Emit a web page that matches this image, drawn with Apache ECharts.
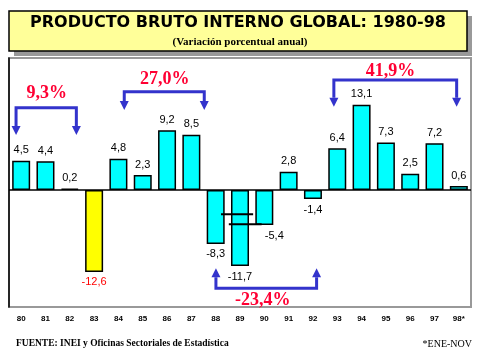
<!DOCTYPE html>
<html><head><meta charset="utf-8">
<script src="https://cdn.jsdelivr.net/npm/echarts/dist/echarts.min.js"></script>
<style>html,body{margin:0;padding:0;background:#fff}#c{width:479px;height:359px}</style>
</head><body><div id="c"></div>
<script>
// ---- data ----
const categories = ['80','81','82','83','84','85','86','87','88','89','90','91','92','93','94','95','96','97','98*'];
const values = [4.5, 4.4, 0.2, -12.6, 4.8, 2.3, 9.2, 8.5, -8.3, -11.7, -5.4, 2.8, -1.4, 6.4, 13.1, 7.3, 2.5, 7.2, 0.6];
const highlightYear = '83';
const periodTexts = ['9,3%', '27,0%', '41,9%', '-23,4%'];
const titleText = 'PRODUCTO BRUTO INTERNO GLOBAL: 1980-98';
const subtitleText = '(Variación porcentual anual)';
const sourceText = 'FUENTE: INEI y Oficinas Sectoriales de Estadística';
const noteText = '*ENE-NOV';

const chart = echarts.init(document.getElementById('c'), null, {renderer: 'canvas'});
const fmt = v => v.toFixed(1).replace('.', ',');

const barData = values.map((v, i) => {
  const hl = categories[i] === highlightYear;
  const item = {
    value: v,
    itemStyle: {color: hl ? '#ffff00' : '#00ffff', borderColor: '#000', borderWidth: 1.5},
    label: {position: v >= 0 ? 'top' : 'bottom', color: hl ? '#ff0000' : '#000'}
  };
  if (categories[i] === '90') item.label.offset = [10, 0];
  return item;
});

const option = {
  animation: false,
  grid: {left: 9, right: 8, top: 58, bottom: 52, show: true, borderColor: '#999', borderWidth: 2, backgroundColor: 'transparent'},
  xAxis: {
    type: 'category', data: categories,
    axisLine: {show: false}, axisTick: {show: false},
    axisLabel: {fontSize: 8, fontWeight: 'bold', color: '#000', margin: 8, fontFamily: 'Liberation Sans'}
  },
  yAxis: {
    type: 'value', min: -18, max: 20.3,
    axisLine: {show: true, lineStyle: {color: '#000', width: 1.5}},
    axisTick: {show: false}, axisLabel: {show: false}, splitLine: {show: false}
  },
  series: [{
    type: 'bar', data: barData, barWidth: 18,
    label: {show: true, distance: 5, fontSize: 11, fontFamily: 'Liberation Sans', formatter: p => fmt(p.value)},
    markLine: {
      silent: true, symbol: 'none', label: {show: false},
      lineStyle: {color: '#000', width: 1.5, type: 'solid'},
      data: [{yAxis: 0}]
    }
  }]
};
chart.setOption(option);

// ---- annotations (positions in category-index / value space) ----
const x0 = chart.convertToPixel({xAxisIndex: 0}, categories[0]);
const x1 = chart.convertToPixel({xAxisIndex: 0}, categories[1]);
const band = x1 - x0;
const X = idx => x0 + band * idx;
const Y = v => chart.convertToPixel({yAxisIndex: 0}, v);

const brackets = [
  {a: -0.21, b: 2.27, line: 12.66, tip: 8.46, tx: 1.05, ty: 14.9, text: periodTexts[0]},
  {a: 4.24, b: 7.53, line: 15.1, tip: 12.3, tx: 5.91, ty: 17.0, text: periodTexts[1]},
  {a: 12.86, b: 17.91, line: 16.9, tip: 12.8, tx: 15.19, ty: 18.3, text: periodTexts[2]},
  {a: 8.01, b: 12.15, line: -15.1, tip: -12.05, tx: 9.94, ty: -17.0, text: periodTexts[3]}
];
const blue = '#3333cc';
const g = [];
// title box
g.push({type: 'rect', shape: {x: 14, y: 16, width: 458, height: 40}, style: {fill: '#999999'}, z: 0});
g.push({type: 'rect', shape: {x: 9, y: 11, width: 458, height: 40}, style: {fill: '#ffff99', stroke: '#000', lineWidth: 1.5}, z: 1});
g.push({type: 'text', x: 238, y: 23, style: {text: titleText, align: 'center', verticalAlign: 'middle', font: 'bold 16px "DejaVu Sans"', fill: '#000'}, z: 2});
g.push({type: 'text', x: 240, y: 42, style: {text: subtitleText, align: 'center', verticalAlign: 'middle', font: 'bold 11px "Liberation Serif"', fill: '#000'}, z: 2});
// footer
g.push({type: 'text', x: 16, y: 344, style: {text: sourceText, align: 'left', verticalAlign: 'middle', font: 'bold 9.5px "Liberation Serif"', fill: '#000'}});
g.push({type: 'text', x: 472, y: 344, style: {text: noteText, align: 'right', verticalAlign: 'middle', font: '10px "Liberation Serif"', fill: '#000'}});

brackets.forEach(br => {
  const xa = X(br.a), xb = X(br.b), yl = Y(br.line), yt = Y(br.tip);
  const dir = yt > yl ? 1 : -1;
  const ah = 9, aw = 4.5;
  g.push({type: 'polyline', shape: {points: [[xa, yt - dir * ah], [xa, yl], [xb, yl], [xb, yt - dir * ah]]},
    style: {stroke: blue, lineWidth: 3, fill: null}, z: 10});
  [xa, xb].forEach(x => {
    g.push({type: 'polygon', shape: {points: [[x - aw, yt - dir * ah], [x + aw, yt - dir * ah], [x, yt]]},
      style: {fill: blue}, z: 10});
  });
  g.push({type: 'text', x: X(br.tx), y: Y(br.ty), style: {text: br.text, align: 'center', verticalAlign: 'middle',
    font: 'bold 18px "Liberation Serif"', fill: '#ff0033'}, z: 10});
});
// black marker lines over bars 88-90
const marks = [{a: 8.22, b: 9.54, v: -3.74}, {a: 8.54, b: 9.89, v: -5.28}];
marks.forEach(m => {
  g.push({type: 'line', shape: {x1: X(m.a), y1: Y(m.v), x2: X(m.b), y2: Y(m.v)}, style: {stroke: '#000', lineWidth: 2}, z: 10});
});
chart.setOption({graphic: g});
</script></body></html>
